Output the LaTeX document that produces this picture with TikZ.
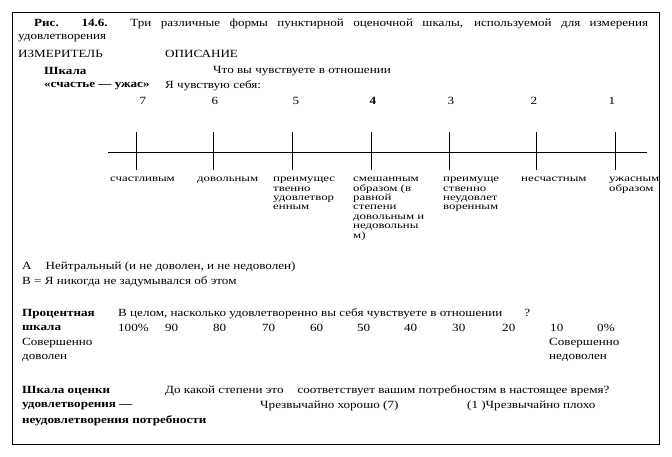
\documentclass[tikz,border=0pt]{standalone}
\usepackage{fontspec}
\setmainfont[FakeStretch=1.19]{Liberation Serif}
\newfontfamily\labfont[FakeStretch=1.35]{Liberation Serif}
\begin{document}
\begin{tikzpicture}[x=1pt,y=-1pt,
  txt/.style={anchor=west,inner sep=0pt,font=\fontsize{11}{13}\selectfont},
  btxt/.style={txt,font=\fontsize{11}{13}\selectfont\bfseries},
  num/.style={inner sep=0pt,font=\fontsize{11}{13}\selectfont},
  lab/.style={anchor=north west,inner sep=0pt,align=left,font=\labfont\fontsize{9.5}{9.4}\selectfont},
  axis/.style={line width=0.8pt},
  frame/.style={line width=1pt}]
\useasboundingbox (0,0) rectangle (672,456);
\draw[frame] (12,12) rectangle (659,444);
% caption
\node[txt] (cap1) at (34,24) {\makebox[614pt][s]{\textbf{Рис. 14.6.} Три различные формы пунктирной оценочной шкалы, используемой для измерения}};
\node[txt] (cap2) at (18,38) {удовлетворения};
\node[txt] (h1) at (18,54) {ИЗМЕРИТЕЛЬ};
\node[txt] (h2) at (165,54) {ОПИСАНИЕ};
\node[btxt] (s1) at (44,71) {Шкала};
\node[txt] (q1) at (213,71) {Что вы чувствуете в отношении};
\node[btxt] (s2) at (44,86) {«счастье — ужас»};
\node[txt] (q2) at (165,86) {Я чувствую себя:};
% scale
\coordinate (la) at (108,152);
\coordinate (lb) at (647,152);
\draw[axis] (la) -- (lb);
\foreach \x/\n/\nx [count=\i] in {136/7/143,213/6/215,292/5/296,371/\textbf{4}/373,449/3/451,536/2/534,615/1/612}{
  \node[num] (n\i) at (\nx,101) {\n};
  \coordinate (tt\i) at (\x,132);
  \coordinate (tb\i) at (\x,170);
  \draw[axis] (tt\i) -- (tb\i);
}
\node[lab] (l7) at (110,177) {счастливым};
\node[lab] (l6) at (197,177) {довольным};
\node[lab] (l5) at (273,177) {преимущес\\твенно\\удовлетвор\\енным};
\node[lab] (l4) at (353,177) {смешанным\\образом (в\\равной\\степени\\довольным и\\недовольны\\м)};
\node[lab] (l3) at (443,177) {преимуще\\ственно\\неудовлет\\воренным};
\node[lab] (l2) at (521,177) {несчастным};
\node[lab] (l1) at (609,177) {ужасным\\образом};
% A / B
\node[txt] (a) at (22,267) {А\hspace{14pt}Нейтральный (и не доволен, и не недоволен)};
\node[txt] (b) at (22,282) {В = Я никогда не задумывался об этом};
% percent scale
\node[btxt] (p1) at (22,314) {Процентная};
\node[btxt] (p2) at (22,328) {шкала};
\node[txt] (pq) at (118,314) {В целом, насколько удовлетворенно вы себя чувствуете в отношении\hspace{22pt}?};
\foreach \x/\t [count=\i] in {118/100\%,165/90,213/80,262/70,310/60,357/50,404/40,452/30,502/20,550/10,597/0\%}{
  \node[txt] (pc\i) at (\x,328) {\t};
}
\node[txt] (c1) at (22,343) {Совершенно};
\node[txt] (c2) at (22,358) {доволен};
\node[txt] (c3) at (549,343) {Совершенно};
\node[txt] (c4) at (549,358) {недоволен};
% satisfaction scale
\node[btxt] (u1) at (22,391) {Шкала оценки};
\node[btxt] (u2) at (22,406) {удовлетворения —};
\node[btxt] (u3) at (22,421) {неудовлетворения потребности};
\node[txt] (uq) at (165,391) {До какой степени это\hspace{14pt}соответствует вашим потребностям в настоящее время?};
\node[txt] (ua) at (260,406) {Чрезвычайно хорошо (7)};
\node[txt] (ub) at (467,406) {(1 )Чрезвычайно плохо};
\end{tikzpicture}
\end{document}
